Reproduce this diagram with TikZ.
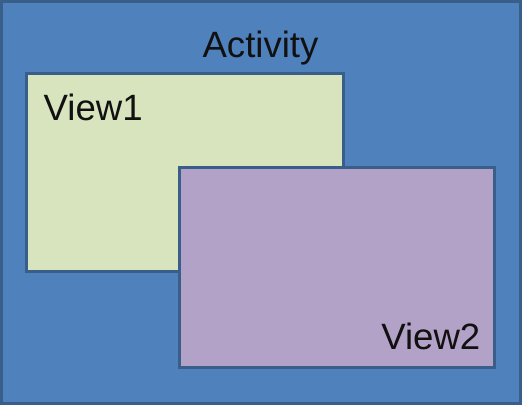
\documentclass[tikz,border=0pt]{standalone}
\usepackage{fontspec}
\setmainfont{Liberation Sans}
\definecolor{bluefill}{HTML}{4F81BD}
\definecolor{edge}{HTML}{3A5E8A}
\definecolor{greenfill}{HTML}{D7E4BD}
\definecolor{purplefill}{HTML}{B3A2C7}
\definecolor{ink}{HTML}{111111}
\tikzset{
  box/.style={draw=edge, line width=3pt},
  lbl/.style={inner sep=0pt, text=ink, font=\fontsize{36.6}{42}\selectfont}
}
\begin{document}
\begin{tikzpicture}[x=1pt,y=-1pt]
\useasboundingbox (0,0) rectangle (522,405);
\draw[box, fill=bluefill] (1.5,1.5) rectangle (520.5,403.5);
\draw[box, fill=greenfill] (26.5,73.5) rectangle (343,271.5);
\draw[box, fill=purplefill] (179,167) rectangle (494.5,367);
\node[lbl, anchor=base] (act) at (260.5,57.3) {Activity};
\node[lbl, anchor=base west] (v1) at (43.5,120) {View1};
\node[lbl, anchor=base east] (v2) at (480.5,349) {View2};
\end{tikzpicture}
\end{document}
